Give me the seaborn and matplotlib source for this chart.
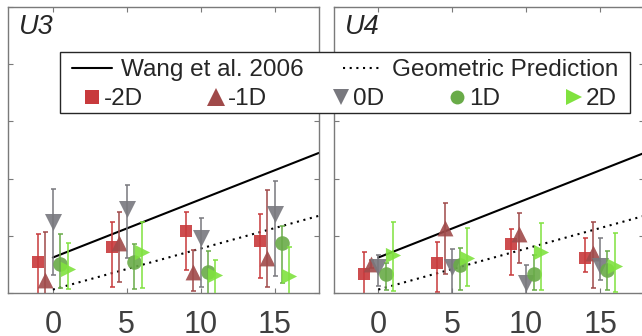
import numpy as np
import pandas as pd
import seaborn as sns
import matplotlib
matplotlib.use('Agg')
import matplotlib.pyplot as plt
from matplotlib.lines import Line2D
from matplotlib.patches import Rectangle

# distances (x ticks) and the five defocus conditions
distances = [0, 5, 10, 15]
conditions = ['-2D', '-1D', '0D', '1D', '2D']

# U3 panel: mean, upper and lower bound per condition (rows follow `conditions`)
u3_mean = [[0.55, 0.80, 1.08, 0.91],
           [0.23, 0.88, 0.37, 0.61],
           [1.25, 1.46, 0.96, 1.39],
           [0.50, 0.54, 0.37, 0.88],
           [0.42, 0.72, 0.31, 0.30]]
u3_upper = [[1.04, 1.25, 1.42, 1.39],
            [1.06, 1.41, 0.76, 1.80],
            [1.82, 1.88, 1.32, 1.95],
            [1.03, 0.86, 0.74, 1.18],
            [0.87, 1.24, 0.58, 0.81]]
u3_lower = [[-0.05, 0.11, 0.40, 0.26],
            [-0.10, 0.20, 0.03, 0.10],
            [0.31, 0.61, 0.10, 0.30],
            [0.08, 0.07, -0.05, 0.17],
            [0.07, 0.08, -0.05, -0.10]]

# U4 panel
u4_mean = [[0.34, 0.52, 0.86, 0.61],
           [0.51, 1.13, 1.04, 0.70],
           [0.46, 0.45, 0.17, 0.48],
           [0.34, 0.49, 0.34, 0.41],
           [0.66, 0.62, 0.72, 0.47]]
u4_upper = [[0.72, 0.90, 1.12, 0.96],
            [0.58, 1.57, 1.40, 1.25],
            [0.66, 0.77, 0.49, 0.96],
            [0.52, 0.78, 0.66, 0.74],
            [1.25, 1.13, 1.22, 1.05]]
u4_lower = [[-0.10, 0.02, 0.31, 0.36],
            [0.44, 0.34, 0.52, 0.08],
            [0.12, -0.05, -0.10, 0.22],
            [0.06, 0.05, 0.06, 0.05],
            [0.04, 0.12, 0.05, 0.02]]

# reference lines (end points)
line_x = [0, 18]
wang_y = [0.62, 2.45]
geo_y = [0.06, 1.35]

# styling
colors = {'-2D': '#C83A3C', '-1D': '#A04A4A', '0D': '#78787E', '1D': '#69AB48', '2D': '#80E23F'}
markers = {'-2D': 's', '-1D': '^', '0D': 'v', '1D': 'o', '2D': '>'}
sizes = {'-2D': 75, '-1D': 130, '0D': 150, '1D': 110, '2D': 120}
dodge = {'-2D': -1.0, '-1D': -0.5, '0D': 0.0, '1D': 0.5, '2D': 1.0}
dotted = (0, (1, 2.2))
spine_col = '#7A7A7A'
text_col = '#262626'

sns.set_theme(style='ticks')
plt.rcParams['font.family'] = ['Liberation Sans', 'DejaVu Sans']


def to_frame(mean, upper, lower):
    rows = []
    for i, cond in enumerate(conditions):
        for j, d in enumerate(distances):
            rows.append({'condition': cond, 'distance': d, 'xpos': d + dodge[cond],
                         'value': mean[i][j], 'upper': upper[i][j], 'lower': lower[i][j]})
    return pd.DataFrame(rows)


fig = plt.figure(figsize=(6.42, 3.36), dpi=100)
ax1 = fig.add_axes([0.0132, 0.128, 0.4836, 0.851])
ax2 = fig.add_axes([0.5202, 0.128, 0.4836, 0.851])

panels = [(ax1, 'U3', to_frame(u3_mean, u3_upper, u3_lower)),
          (ax2, 'U4', to_frame(u4_mean, u4_upper, u4_lower))]

for ax, name, df in panels:
    sns.lineplot(x=line_x, y=wang_y, color='black', lw=1.5, ax=ax, zorder=1)
    sns.lineplot(x=line_x, y=geo_y, color='black', lw=1.5, linestyle=dotted, ax=ax, zorder=1)
    for k, cond in enumerate(conditions):
        sub = df[df['condition'] == cond]
        ax.errorbar(sub['xpos'], sub['value'],
                    yerr=[sub['value'] - sub['lower'], sub['upper'] - sub['value']],
                    fmt='none', ecolor=colors[cond], elinewidth=1.3, capsize=1.8,
                    capthick=1.3, alpha=0.85, zorder=2 + k)
        sns.scatterplot(data=sub, x='xpos', y='value', marker=markers[cond], s=sizes[cond],
                        color=colors[cond], linewidth=0, alpha=0.9, ax=ax,
                        zorder=2 + k, legend=False)

    ax.set_xlim(-3, 18)
    ax.set_ylim(0, 5)
    ax.set_xticks(distances)
    ax.set_yticks([0, 1, 2, 3, 4, 5])
    ax.set_yticklabels([])
    ax.set_xlabel('')
    ax.set_ylabel('')
    ax.tick_params(direction='in', length=3.5, width=0.8, color=spine_col,
                   top=True, right=True, labelsize=22, labelcolor='#404040', pad=12)
    ax.tick_params(axis='y', labelleft=False)
    for sp in ax.spines.values():
        sp.set_visible(True)
        sp.set_color(spine_col)
        sp.set_linewidth(1.0)
    ax.text(0.035, 0.975, name, transform=ax.transAxes, ha='left', va='top',
            fontsize=19.5, style='italic', color=text_col)

# legend box spanning both panels
fig.add_artist(Rectangle((60 / 642, 1 - 113 / 336), 570 / 642, 61 / 336,
                         transform=fig.transFigure, facecolor='white',
                         edgecolor=text_col, lw=1.0, zorder=10))

line_handles = [Line2D([], [], color='black', lw=1.5),
                Line2D([], [], color='black', lw=1.5, linestyle=dotted)]
leg1 = fig.legend(handles=line_handles, labels=['Wang et al. 2006', 'Geometric Prediction'],
                  ncol=2, loc='center left', bbox_to_anchor=(72 / 642, 1 - 70 / 336),
                  frameon=False, fontsize=17.5, handlelength=1.65, handletextpad=0.37,
                  columnspacing=1.6, borderpad=0, borderaxespad=0, labelcolor=text_col)
leg1.set_zorder(11)

ms = {'-2D': 10, '-1D': 13, '0D': 12, '1D': 10, '2D': 11}
marker_handles = [Line2D([], [], ls='none', marker=markers[c], color=colors[c],
                         markersize=ms[c], markeredgewidth=0) for c in conditions]
leg2 = fig.legend(handles=marker_handles, labels=conditions, ncol=5, loc='center left',
                  bbox_to_anchor=(84 / 642, 1 - 99 / 336), frameon=False, fontsize=17.5,
                  handlelength=0.65, handletextpad=0.16, columnspacing=2.7,
                  borderpad=0, borderaxespad=0, labelcolor=text_col)
leg2.set_zorder(11)

fig.savefig('out.png', dpi=100)
